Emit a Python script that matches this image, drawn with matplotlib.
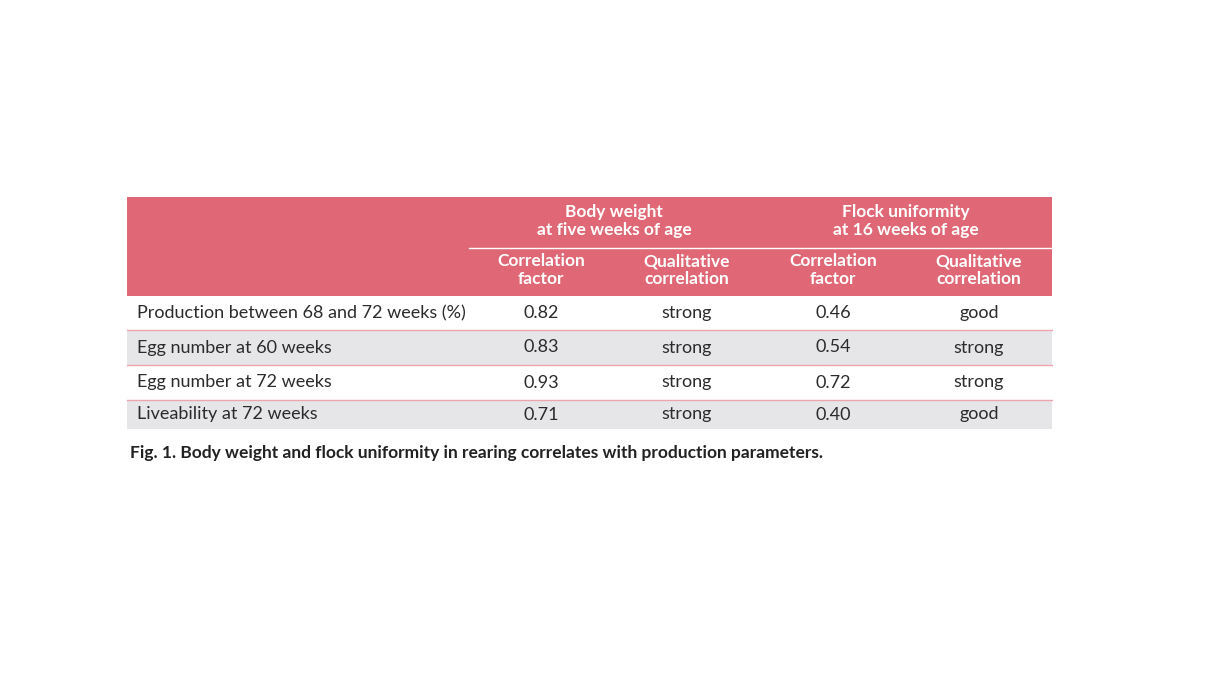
import matplotlib.pyplot as plt
from matplotlib.patches import Rectangle

group_labels = ["Body weight\nat five weeks of age", "Flock uniformity\nat 16 weeks of age"]
sub_labels = ["Correlation\nfactor", "Qualitative\ncorrelation", "Correlation\nfactor", "Qualitative\ncorrelation"]
row_labels = ["Production between 68 and 72 weeks (%)", "Egg number at 60 weeks",
              "Egg number at 72 weeks", "Liveability at 72 weeks"]
bw_factor = ["0.82", "0.83", "0.93", "0.71"]
bw_quality = ["strong", "strong", "strong", "strong"]
fu_factor = ["0.46", "0.54", "0.72", "0.40"]
fu_quality = ["good", "strong", "strong", "good"]
caption = "Fig. 1. Body weight and flock uniformity in rearing correlates with production parameters."

header_col = '#E06876'
grey = '#E6E6E9'
line_col = '#EFA4AC'
text_col = '#2B2B2B'
font = 'Lato'

fig = plt.figure(figsize=(12.2, 6.84), dpi=100)
ax = fig.add_axes([0, 0, 1, 1])
ax.set_xlim(0, 1220)
ax.set_ylim(684, 0)
ax.axis('off')

left, right = 127, 1052
col_x = [541, 687, 833, 979]
row_top = [296, 330, 365, 400]
row_bot = [330, 365, 400, 429]

# header
ax.add_patch(Rectangle((left, 197), right - left, 99, color=header_col, lw=0))
ax.plot([469, right], [247.5, 247.5], color='white', lw=1)
for i, g in enumerate(group_labels):
    ax.text((col_x[2 * i] + col_x[2 * i + 1]) / 2, 221, g, ha='center', va='center',
            color='white', fontsize=12.5, fontweight='bold', family=font, linespacing=1.1)
for x, s in zip(col_x, sub_labels):
    ax.text(x, 270, s, ha='center', va='center', color='white', fontsize=12.5,
            fontweight='bold', family=font, linespacing=1.1)

# body rows
cols = [bw_factor, bw_quality, fu_factor, fu_quality]
for r, label in enumerate(row_labels):
    t, b = row_top[r], row_bot[r]
    if r % 2 == 1:
        ax.add_patch(Rectangle((left, t), right - left, b - t, color=grey, lw=0))
    yc = (t + b) / 2
    ax.text(137, yc, label, ha='left', va='center', color=text_col, fontsize=13, family=font)
    for x, c in zip(col_x, cols):
        ax.text(x, yc, c[r], ha='center', va='center', color=text_col, fontsize=13, family=font)
    if r > 0:
        ax.plot([left, right], [t, t], color=line_col, lw=1)

ax.text(130, 453, caption, ha='left', va='center', color='#222222', fontsize=12.5,
        fontweight='bold', family=font)

fig.savefig('out.png', dpi=100)
